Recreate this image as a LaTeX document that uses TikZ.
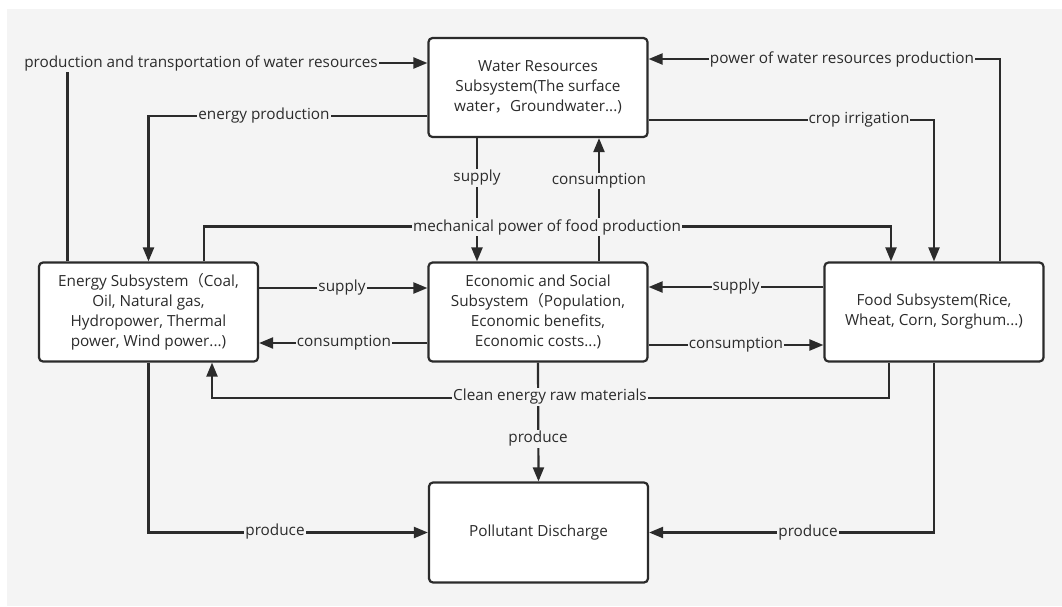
\documentclass[tikz,border=0pt]{standalone}
\usepackage{fontspec}
\setmainfont{Open Sans}
\newfontfamily\cjk{Noto Sans CJK SC}
\usetikzlibrary{arrows.meta}
\definecolor{bgray}{HTML}{F4F4F4}
\definecolor{ink}{HTML}{2B2B2B}
\tikzset{
  box/.style={draw=ink, fill=white, line width=2.2pt, rounded corners=4pt,
    minimum width=219pt, minimum height=99pt, align=center, text=ink,
    font=\fontsize{15.3}{20}\selectfont, inner sep=0pt},
  lbl/.style={fill=bgray, text=ink, font=\fontsize{15.3}{17}\selectfont, inner sep=1pt},
  arr/.style={draw=ink, line width=2.2pt, -{Triangle[length=14pt,width=11pt]}},
}
\begin{document}
\begin{tikzpicture}[x=1pt, y=-1pt]
\useasboundingbox (0,0) rectangle (1062,606);
\fill[white] (0,0) rectangle (1062,606);
\fill[bgray] (7,9) rectangle (1062,606);
% subsystems
\node[box] (water) at (538,87.5) {Water Resources\\Subsystem(The surface\\water{\cjk ，}Groundwater...)};
\node[box] (energy) at (148.5,312) {Energy Subsystem{\cjk （}Coal,\\Oil, Natural gas,\\Hydropower, Thermal\\power, Wind power...)};
\node[box] (econ) at (538,312) {Economic and Social\\Subsystem{\cjk （}Population,\\Economic benefits,\\Economic costs...)};
\node[box] (food) at (934,312) {Food Subsystem(Rice,\\Wheat, Corn, Sorghum...)};
\node[box, minimum height=100pt] (pollut) at (538.5,532.5) {Pollutant Discharge};
% top links
\draw[arr] ([xshift=-81]energy.north) |- ([yshift=24.5]water.west);
\draw[arr] ([yshift=-28.5]water.west) -| (energy.north);
\draw[arr] ([xshift=66]food.north) |- ([yshift=28.5]water.east);
\draw[arr] ([yshift=-32.5]water.east) -| (food.north);
\draw[arr] ([xshift=-61]water.south) -- ([xshift=-61]econ.north);
\draw[arr] ([xshift=61]econ.north) -- ([xshift=61]water.south);
\draw[arr] ([xshift=55.5]energy.north) |- ([xshift=-43,yshift=35]food.north) -- ([xshift=-43]food.north);
% middle links
\draw[arr] ([yshift=24]energy.east) -- ([yshift=24]econ.west);
\draw[arr] ([yshift=-31]econ.west) -- ([yshift=-31]energy.east);
\draw[arr] ([yshift=25]food.west) -- ([yshift=25]econ.east);
\draw[arr] ([yshift=-33]econ.east) -- ([yshift=-33]food.west);
\draw[arr] ([xshift=-45]food.south) |- ([xshift=63.5,yshift=-35]energy.south) -- ([xshift=63.5]energy.south);
% pollution links
\draw[arr] (econ.south) -- (pollut.north);
\draw[arr] (energy.south) |- (pollut.west);
\draw[arr] (food.south) |- (pollut.east);
% labels
\node[lbl] (lTrans) at (201,63) {production and transportation of water resources};
\node[lbl] (lEnProd) at (264,116) {energy production};
\node[lbl] (lPower) at (842,59) {power of water resources production};
\node[lbl] (lCrop) at (859,120) {crop irrigation};
\node[lbl] (lSupW) at (477,178) {supply};
\node[lbl] (lConW) at (599,181) {consumption};
\node[lbl] (lMech) at (547,227) {mechanical power of food production};
\node[lbl] (lSupE) at (342,288) {supply};
\node[lbl] (lConE) at (344,343) {consumption};
\node[lbl] (lSupF) at (736,287) {supply};
\node[lbl] (lConF) at (736,345) {consumption};
\node[lbl] (lClean) at (550,397) {Clean energy raw materials};
\node[lbl] (lProC) at (538,439) {produce};
\node[lbl] (lProE) at (275,532) {produce};
\node[lbl] (lProF) at (808,533) {produce};
\end{tikzpicture}
\end{document}
